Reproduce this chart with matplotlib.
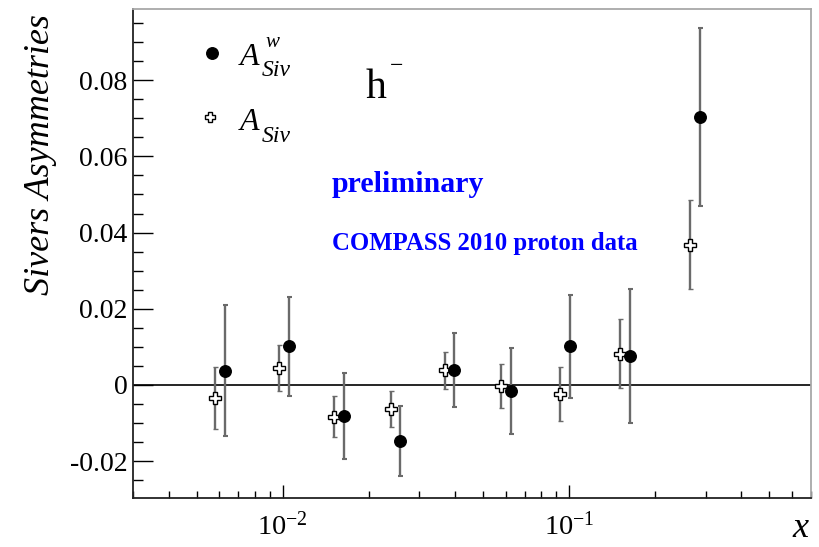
import matplotlib
matplotlib.use("Agg")
import matplotlib.pyplot as plt
from matplotlib.ticker import FixedLocator, NullFormatter

plt.rcParams['font.family'] = ['Liberation Serif', 'DejaVu Serif']
plt.rcParams['mathtext.fontset'] = 'custom'
plt.rcParams['mathtext.rm'] = 'Liberation Serif'
plt.rcParams['mathtext.it'] = 'Liberation Serif:italic'
plt.rcParams['mathtext.bf'] = 'Liberation Serif:bold'

# ---- data ----
x_open = [0.00582, 0.00974, 0.01508, 0.0238, 0.0369, 0.058, 0.093, 0.1504, 0.265]
y_open = [-0.0035, 0.0044, -0.0083, -0.0064, 0.0038, -0.0003, -0.0024, 0.0082, 0.0368]
e_open = [0.0081, 0.0060, 0.0054, 0.0047, 0.0049, 0.0057, 0.0071, 0.0091, 0.0117]

x_fill = [0.0063, 0.0105, 0.01634, 0.02565, 0.0398, 0.0625, 0.1006, 0.163, 0.287]
y_fill = [0.0037, 0.0101, -0.0082, -0.0147, 0.0040, -0.0015, 0.0101, 0.0075, 0.0704]
e_fill = [0.0172, 0.0130, 0.0112, 0.0092, 0.0097, 0.0113, 0.0136, 0.0176, 0.0234]

yticks = [-0.02, 0.0, 0.02, 0.04, 0.06, 0.08]
ytick_labels = ['-0.02', '0', '0.02', '0.04', '0.06', '0.08']
xticks = [0.01, 0.1]
xtick_labels = [r'$10^{-2}$', r'$10^{-1}$']

W, H = 819, 547
fig = plt.figure(figsize=(W / 100, H / 100), dpi=100)
L, R, T, B = 133, 811, 9, 498
ax = fig.add_axes([L / W, 1 - B / H, (R - L) / W, (B - T) / H])

ax.set_xscale('log')
ax.set_xlim(0.003, 0.7)
ax.set_ylim(-0.0297, 0.0987)

ax.axhline(0, color='black', lw=1.2, zorder=1)

err_kw = dict(ecolor='#6a6a6a', elinewidth=1.7, capsize=1.8, capthick=1.5, linestyle='none')
ax.errorbar(x_open, y_open, yerr=e_open, fmt='P', markersize=8.5, markerfacecolor='white',
            markeredgecolor='black', markeredgewidth=1.0, zorder=3, **err_kw)
ax.errorbar(x_fill, y_fill, yerr=e_fill, fmt='o', markersize=8.3, color='black', zorder=4, **err_kw)

# ticks
ax.set_yticks(yticks)
ax.set_yticklabels(ytick_labels)
ax.yaxis.set_minor_locator(FixedLocator([v / 1000 for v in range(-30, 100, 5)]))
ax.set_xticks(xticks)
ax.set_xticklabels(xtick_labels)
ax.xaxis.set_minor_formatter(NullFormatter())

ax.tick_params(axis='y', which='major', direction='in', length=14.4, width=1.0, labelsize=20,
               pad=4, left=True, right=False)
ax.tick_params(axis='y', which='minor', direction='in', length=7.2, width=1.0, left=True, right=False)
ax.tick_params(axis='x', which='major', direction='in', length=9.4, width=1.0, labelsize=20.5,
               pad=10.5, bottom=True, top=False)
ax.tick_params(axis='x', which='minor', direction='in', length=5, width=1.0, bottom=True, top=False)

for s in ['left', 'bottom']:
    ax.spines[s].set_color('#222222')
    ax.spines[s].set_linewidth(1.3)
for s in ['top', 'right']:
    ax.spines[s].set_color('#a8a8a8')
    ax.spines[s].set_linewidth(1.3)

# axis titles
fig.text(41 / W, 1 - 14 / H, 'Sivers Asymmetries', rotation=90, ha='center', va='top',
         fontsize=26, fontstyle='italic')
fig.text(808 / W, 1 - 545 / H, 'x', ha='right', va='bottom', fontsize=26, fontstyle='italic')

# annotations
def ax_xy(px, py):
    return ((px - L) / (R - L), (B - py) / (B - T))

ax.text(*ax_xy(366, 98), 'h', fontsize=30, va='baseline', ha='left', transform=ax.transAxes)
ax.text(*ax_xy(390, 72), '\u2212', fontsize=17, va='baseline', ha='left', transform=ax.transAxes)
ax.text(*ax_xy(332, 192), 'preliminary', fontsize=21.5, fontweight='bold', color='#0000ff',
        va='baseline', ha='left', transform=ax.transAxes)
ax.text(*ax_xy(332, 250), 'COMPASS 2010 proton data', fontsize=17.8, fontweight='bold',
        color='#0000ff', va='baseline', ha='left', transform=ax.transAxes)

# legend
ax.plot(*ax_xy(211.7, 52.5), 'o', color='black', markersize=8.3, transform=ax.transAxes, clip_on=False)
ax.plot(*ax_xy(210, 117), 'P', markerfacecolor='white', markeredgecolor='black', markeredgewidth=1.0,
        markersize=7.5, transform=ax.transAxes, clip_on=False)
leg_items = [(65, 'w', 76), (130, None, 141.5)]
for base, sup, subbase in leg_items:
    ax.text(*ax_xy(240, base), 'A', fontsize=23, fontstyle='italic', va='baseline', ha='left',
            transform=ax.transAxes)
    ax.text(*ax_xy(262, subbase), 'Siv', fontsize=17, fontstyle='italic', va='baseline', ha='left',
            transform=ax.transAxes)
    if sup:
        ax.text(*ax_xy(265, 47), sup, fontsize=15, fontstyle='italic', va='baseline', ha='left',
                transform=ax.transAxes)

fig.savefig('out.png', dpi=100, facecolor='white')
